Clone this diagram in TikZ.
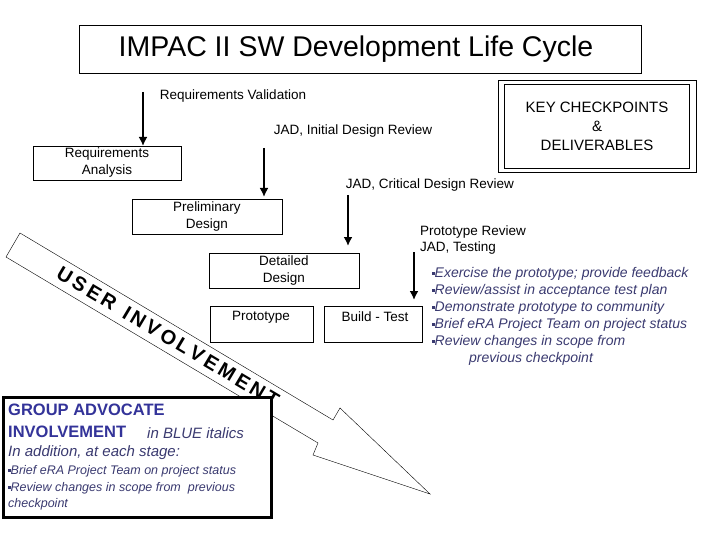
\documentclass[tikz,border=0pt]{standalone}
\usepackage{fontspec}
\setmainfont{Liberation Sans}
\usetikzlibrary{arrows.meta}
\definecolor{gblue}{HTML}{333399}
\definecolor{iblue}{HTML}{3A3A70}
\newcommand{\bsq}{\rule[2.5pt]{2.5pt}{2.5pt}}
\begin{document}
\begin{tikzpicture}[x=1pt,y=-1pt,
  lbl/.style={font=\fontsize{13.5}{16}\selectfont,inner sep=0pt},
  stage/.style={draw,thin,font=\fontsize{13.5}{17}\selectfont,align=center,inner sep=0pt},
  down/.style={line width=2.5pt,-{Latex[length=9pt,width=9pt]}},
  bul/.style={font=\fontsize{14}{17}\selectfont\itshape,text=iblue,align=left,inner sep=0pt,anchor=north west},
  gl/.style={anchor=west,inner sep=0pt,text=iblue}]
\useasboundingbox (0,0) rectangle (720,540);
% title
\node[draw,minimum width=562pt,minimum height=48pt,font=\fontsize{28.5}{32}\selectfont] (title) at (360,49) {\hspace*{-8pt}IMPAC II SW Development Life Cycle};
% key checkpoints
\node[draw,minimum width=198pt,minimum height=92pt] (kco) at (597,126) {};
\node[draw,minimum width=185pt,minimum height=84pt,font=\fontsize{15}{19}\selectfont,align=center] (kc) at (597,126) {KEY CHECKPOINTS\\\&\\DELIVERABLES};
% labels
\node[lbl] (rv) at (233,96) {Requirements Validation};
\node[lbl] (jad1) at (353,131) {JAD, Initial Design Review};
\node[lbl] (jad2) at (430,185) {JAD, Critical Design Review};
\node[lbl,align=left,anchor=north west,font=\fontsize{13.5}{16}\selectfont] (pr) at (420,226) {Prototype Review\\JAD, Testing};
% stage boxes
\node[stage,minimum width=148pt,minimum height=34pt] (ra) at (107,163) {Requirements\\Analysis};
\node[stage,minimum width=150pt,minimum height=35pt] (pd) at (207,216.5) {Preliminary\\Design};
\node[stage,minimum width=150pt,minimum height=35pt] (dd) at (284,270.5) {Detailed\\Design};
\node[draw,thin,minimum width=103pt,minimum height=36pt] (pt) at (261.5,324) {};
\node[lbl] (ptt) at (261,317) {Prototype};
\node[draw,thin,minimum width=98pt,minimum height=36pt] (bt) at (373,324) {};
\node[lbl] (btt) at (375,317) {Build - Test};
% checkpoint arrows
\coordinate (a1) at (143,92); \coordinate (a1e) at (143,146);
\coordinate (a2) at (264,148); \coordinate (a2e) at (264,197);
\coordinate (a3) at (348,195); \coordinate (a3e) at (348,246);
\coordinate (a4) at (414,252); \coordinate (a4e) at (414,300);
\draw[down] (a1) -- (a1e);
\draw[down] (a2) -- (a2e);
\draw[down] (a3) -- (a3e);
\draw[down] (a4) -- (a4e);
% bullets
\node[bul] (b1) at (432,267) {\bsq Exercise the prototype; provide feedback\\
\bsq Review/assist in acceptance test plan\\
\bsq Demonstrate prototype to community\\
\bsq Brief eRA Project Team on project status\\
\bsq Review changes in scope from\\
\hspace*{37pt}previous checkpoint};
% big arrow
\draw[thin,fill=white] (20,233) -- (333,420) -- (340,408) -- (430,494) -- (313,455) -- (318,443) -- (6,257) -- cycle;
\node[rotate=-30.8,font=\fontsize{20}{20}\selectfont\bfseries,inner sep=0pt] (ui) at (168,337) {U\,S\,E\,R\ \ I\,N\,V\,O\,L\,V\,E\,M\,E\,N\,T};
% group advocate box
\node[draw,line width=3pt,fill=white,minimum width=268pt,minimum height=120pt] (ga) at (137.5,457) {};
\node[gl,font=\fontsize{16.5}{20}\selectfont\bfseries,text=gblue] (g1) at (8,410) {GROUP ADVOCATE};
\node[gl,font=\fontsize{16.5}{20}\selectfont\bfseries,text=gblue] (g2) at (8,432) {INVOLVEMENT};
\node[gl,font=\fontsize{15}{18}\selectfont\itshape] (g2b) at (147,433) {in BLUE italics};
\node[gl,font=\fontsize{15}{18}\selectfont\itshape] (g3) at (8,453) {In addition, at each stage:};
\node[gl,font=\fontsize{12.5}{16}\selectfont\itshape] (g4) at (8,471) {\bsq Brief eRA Project Team on project status};
\node[gl,font=\fontsize{12.5}{16}\selectfont\itshape] (g5) at (8,488) {\bsq Review changes in scope from\ \ previous};
\node[gl,font=\fontsize{12.5}{16}\selectfont\itshape] (g6) at (8,504) {checkpoint};
\end{tikzpicture}
\end{document}
